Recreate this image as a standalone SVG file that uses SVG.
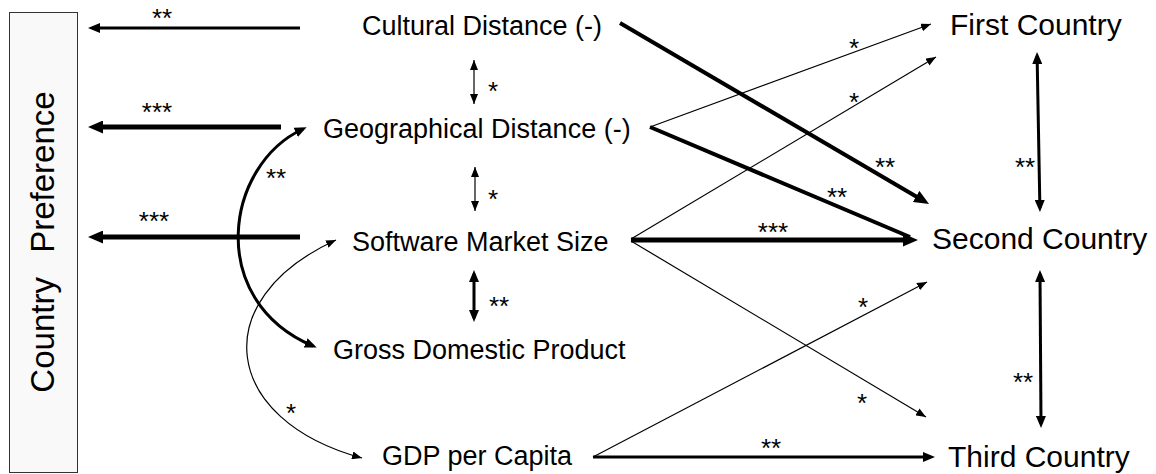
<svg xmlns="http://www.w3.org/2000/svg" width="1156" height="474" viewBox="0 0 1156 474">
<style>
text{font-family:"Liberation Sans",Arial,sans-serif;fill:#000}
.mid{font-size:27px}
.rt{font-size:30px}
.pref{font-size:33px}
.s{font-size:26px;text-anchor:middle}
.c{fill:none;stroke:#000;stroke-linecap:butt}
.w1{stroke-width:1.2}
.w3{stroke-width:3}
.w4{stroke-width:4}
.w5{stroke-width:5}
</style>
<defs>
<marker id="ht" markerUnits="userSpaceOnUse" markerWidth="10" markerHeight="8" refX="10" refY="4" orient="auto-start-reverse" viewBox="0 0 10 8"><path d="M0,0 L10,4 L0,8 z" fill="#000"/></marker>
<marker id="hm" markerUnits="userSpaceOnUse" markerWidth="12" markerHeight="10" refX="8" refY="5" orient="auto-start-reverse" viewBox="0 0 12 10"><path d="M0,0 L12,5 L0,10 z" fill="#000"/></marker>
<marker id="hk" markerUnits="userSpaceOnUse" markerWidth="15" markerHeight="13" refX="8" refY="6.5" orient="auto-start-reverse" viewBox="0 0 15 13"><path d="M0,0 L15,6.5 L0,13 z" fill="#000"/></marker>
</defs>
<rect width="1156" height="474" fill="#fff"/>

<g id="country-preference">
<rect x="9.5" y="12.5" width="68" height="460" fill="#f9f9f9" stroke="#333" stroke-width="1"/>
<text class="pref" xml:space="preserve" transform="translate(54,242) rotate(-90)" text-anchor="middle" word-spacing="3">Country  Preference</text>
</g>

<g id="cultural-distance"><text class="mid" x="362" y="35">Cultural Distance (-)</text></g>
<g id="geographical-distance"><text class="mid" x="323" y="138">Geographical Distance (-)</text></g>
<g id="software-market-size"><text class="mid" x="352" y="251">Software Market Size</text></g>
<g id="gross-domestic-product"><text class="mid" x="333" y="359">Gross Domestic Product</text></g>
<g id="gdp-per-capita"><text class="mid" x="382" y="465">GDP per Capita</text></g>
<g id="first-country"><text class="rt" x="950" y="35">First Country</text></g>
<g id="second-country"><text class="rt" x="932" y="249">Second Country</text></g>
<g id="third-country"><text class="rt" x="948" y="467">Third Country</text></g>

<g id="connectors">
<!-- to Country Preference -->
<path class="c w3" d="M300,28 H92" marker-end="url(#hm)"/>
<path class="c w5" d="M281,127 H95" marker-end="url(#hk)"/>
<path class="c w5" d="M300,237 H95" marker-end="url(#hk)"/>
<!-- correlations among factors -->
<path class="c w1" d="M474,60 V104" marker-start="url(#ht)" marker-end="url(#ht)"/>
<path class="c w1" d="M475,167 V211" marker-start="url(#ht)" marker-end="url(#ht)"/>
<path class="c w3" d="M474,274 V318" marker-start="url(#hm)" marker-end="url(#hm)"/>
<path class="c w3" d="M303,129 C225,165 205,300 313,346" marker-start="url(#hm)" marker-end="url(#hm)"/>
<path class="c w1" d="M336,240 C205,300 222,420 362,458" marker-start="url(#ht)" marker-end="url(#ht)"/>
<!-- to countries -->
<path class="c w4" d="M620,23 L923,200.5" marker-end="url(#hk)"/>
<path class="c w1" d="M650,127 L931,24" marker-end="url(#ht)"/>
<path class="c w4" d="M650,127 L910,237"/>
<path class="c w1" d="M631,239 L936,57" marker-end="url(#ht)"/>
<path class="c w5" d="M631,240 H911" marker-end="url(#hk)"/>
<path class="c w1" d="M631,241 L926,417" marker-end="url(#ht)"/>
<path class="c w1" d="M593,457 L927,282" marker-end="url(#ht)"/>
<path class="c w3" d="M593,457 H931" marker-end="url(#hm)"/>
<path class="c w3" d="M1037.1,56 L1039.9,208" marker-start="url(#hm)" marker-end="url(#hm)"/>
<path class="c w3" d="M1040,274 L1041,424" marker-start="url(#hm)" marker-end="url(#hm)"/>
</g>

<g id="connector-labels">
<text class="s" x="162" y="27">**</text>
<text class="s" x="157" y="121">***</text>
<text class="s" x="154" y="230">***</text>
<text class="s" x="276" y="187">**</text>
<text class="s" x="291" y="422">*</text>
<text class="s" x="493" y="100">*</text>
<text class="s" x="493" y="208">*</text>
<text class="s" x="499" y="315">**</text>
<text class="s" x="854" y="57">*</text>
<text class="s" x="854" y="111">*</text>
<text class="s" x="885" y="176">**</text>
<text class="s" x="837" y="206">**</text>
<text class="s" x="773" y="241">***</text>
<text class="s" x="1025" y="176">**</text>
<text class="s" x="863" y="316">*</text>
<text class="s" x="862" y="412">*</text>
<text class="s" x="771" y="457">**</text>
<text class="s" x="1023" y="391">**</text>
</g>
</svg>
